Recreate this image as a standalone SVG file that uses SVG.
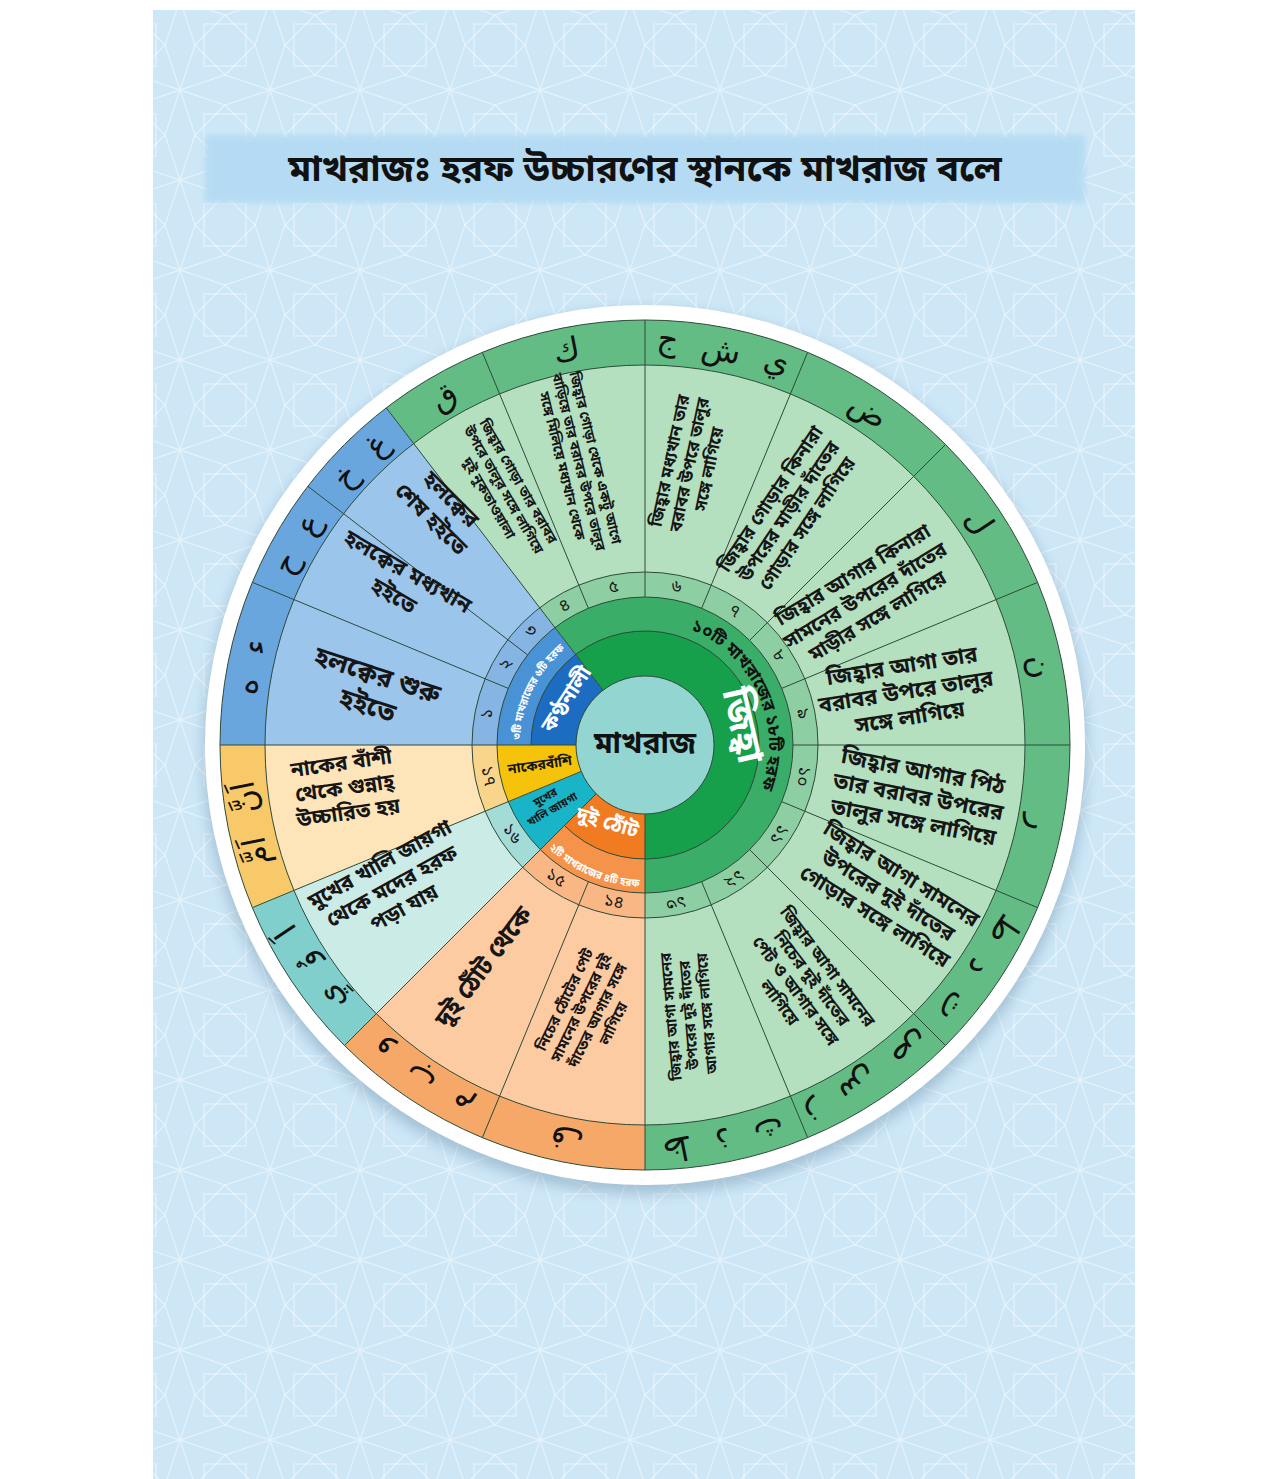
<svg xmlns="http://www.w3.org/2000/svg" width="1280" height="1479" viewBox="0 0 1280 1479">
<defs>
<style>
.bn{font-family:'Noto Sans Bengali','Noto Serif Bengali','Lohit Bengali','Hind Siliguri','Noto Sans',sans-serif;font-weight:700}
.d{fill:#161616;text-anchor:middle;dominant-baseline:central}
.n{font-size:17px;fill:#1a1a1a;text-anchor:middle;dominant-baseline:central;font-weight:400}
.ar{font-family:'DejaVu Sans','Noto Sans',sans-serif;font-size:32px;fill:#111;text-anchor:middle;dominant-baseline:central;word-spacing:14px}
.ln{stroke:#2e4a3a;stroke-width:1;fill:none}
</style>
<pattern id="bgp" width="90" height="90" patternUnits="userSpaceOnUse">
<rect width="90" height="90" fill="#cde7f7"/>
<g fill="none" stroke="#ffffff" stroke-opacity="0.45" stroke-width="1.3">
<polygon points="45,15 75,45 45,75 15,45"/>
<rect x="24" y="24" width="42" height="42"/>
<path d="M0 0 L15 45 L0 90 M90 0 L75 45 L90 90 M0 0 L45 15 L90 0 M0 90 L45 75 L90 90"/>
</g>
</pattern>
<filter id="sh" x="-10%" y="-10%" width="120%" height="120%"><feGaussianBlur stdDeviation="7"/></filter>
<filter id="soft" x="-5%" y="-20%" width="110%" height="140%"><feGaussianBlur stdDeviation="3"/></filter>
</defs>

<rect width="1280" height="1479" fill="#ffffff"/>
<rect x="153" y="10" width="982" height="1469" fill="url(#bgp)"/>

<g id="title">
<rect x="205" y="135" width="880" height="68" fill="#b2daf3" opacity="0.9" filter="url(#soft)"/>
<text class="bn" x="645" y="171" font-size="37" text-anchor="middle" dominant-baseline="central" fill="#111">মাখরাজঃ হরফ উচ্চারণের স্থানকে মাখরাজ বলে</text>
</g>

<g id="wheel-base">
<circle cx="645" cy="752" r="442" fill="#6f93ab" opacity="0.45" filter="url(#sh)"/>
<circle cx="645" cy="745" r="440" fill="#ffffff"/>
</g>

<g id="group-kanthanali">
<path d="M645 745 L220 745 A425 425 0 0 1 386.28 407.83 Z" fill="#6aa6de"/>
<path d="M645 745 L265 745 A380 380 0 0 1 413.67 443.53 Z" fill="#9cc5ec"/>
<path d="M645 745 L472 745 A173 173 0 0 1 539.68 607.75 Z" fill="#86b5e3"/>
<path d="M645 745 L497 745 A148 148 0 0 1 554.9 627.58 Z" fill="#4a92d6"/>
<path d="M645 745 L531 745 A114 114 0 0 1 575.6 654.56 Z" fill="#1c6cc2"/>
</g>
<g id="group-jihba">
<path d="M645 745 L386.28 407.83 A425 425 0 1 1 645 1170 Z" fill="#62bc84"/>
<path d="M645 745 L413.67 443.53 A380 380 0 1 1 645 1125 Z" fill="#b4e0c0"/>
<path d="M645 745 L539.68 607.75 A173 173 0 1 1 645 918 Z" fill="#8dcfa2"/>
<path d="M645 745 L554.9 627.58 A148 148 0 1 1 645 893 Z" fill="#3aad68"/>
<path d="M645 745 L575.6 654.56 A114 114 0 1 1 645 859 Z" fill="#16a04b"/>
</g>
<g id="group-thot">
<path d="M645 745 L645 1170 A425 425 0 0 1 344.48 1045.52 Z" fill="#f6a868"/>
<path d="M645 745 L645 1125 A380 380 0 0 1 376.3 1013.7 Z" fill="#fdcba2"/>
<path d="M645 745 L645 918 A173 173 0 0 1 522.67 867.33 Z" fill="#f8b785"/>
<path d="M645 745 L645 893 A148 148 0 0 1 540.35 849.65 Z" fill="#f5934b"/>
<path d="M645 745 L645 859 A114 114 0 0 1 564.39 825.61 Z" fill="#f07b20"/>
</g>
<g id="group-mukh">
<path d="M645 745 L344.48 1045.52 A425 425 0 0 1 252.35 907.64 Z" fill="#80cfcc"/>
<path d="M645 745 L376.3 1013.7 A380 380 0 0 1 293.93 890.42 Z" fill="#cbebe6"/>
<path d="M645 745 L522.67 867.33 A173 173 0 0 1 485.17 811.2 Z" fill="#a3dbd6"/>
<path d="M645 745 L540.35 849.65 A148 148 0 0 1 508.27 801.64 Z" fill="#1ab4c8"/>
</g>
<g id="group-nak">
<path d="M645 745 L252.35 907.64 A425 425 0 0 1 220 745 Z" fill="#f8c968"/>
<path d="M645 745 L293.93 890.42 A380 380 0 0 1 265 745 Z" fill="#fee4b9"/>
<path d="M645 745 L485.17 811.2 A173 173 0 0 1 472 745 Z" fill="#f9d48b"/>
<path d="M645 745 L508.27 801.64 A148 148 0 0 1 497 745 Z" fill="#f6c30b"/>
</g>

<g id="connectors" class="ln">
<circle cx="645" cy="745" r="425"/>
<circle cx="645" cy="745" r="380"/>
<circle cx="645" cy="745" r="173"/>
<circle cx="645" cy="745" r="148"/>
<path d="M531 745 A114 114 0 1 1 564.39 825.61"/>
<path d="M793 745 L1070 745"/>
<path d="M781.73 801.64 L1037.65 907.64"/>
<path d="M749.65 849.65 L945.52 1045.52"/>
<path d="M701.64 881.73 L807.64 1137.65"/>
<path d="M645 814 L645 1170"/>
<path d="M588.36 881.73 L482.36 1137.65"/>
<path d="M596.21 793.79 L344.48 1045.52"/>
<path d="M581.25 771.4 L252.35 907.64"/>
<path d="M576 745 L220 745"/>
<path d="M508.27 688.36 L252.35 582.36"/>
<path d="M527.58 654.9 L307.83 486.28"/>
<path d="M603 690.26 L386.28 407.83"/>
<path d="M588.36 608.27 L482.36 352.35"/>
<path d="M645 597 L645 320"/>
<path d="M701.64 608.27 L807.64 352.35"/>
<path d="M749.65 640.35 L945.52 444.48"/>
<path d="M781.73 688.36 L1037.65 582.36"/>
</g>

<g id="center">
<circle cx="645" cy="745" r="69" fill="#92d5d1" stroke="#2e4a3a" stroke-width="1"/>
<text class="bn" x="645" y="745" font-size="30" text-anchor="middle" dominant-baseline="central" fill="#111">মাখরাজ</text>
</g>

<g id="categories">
<text class="bn" transform="translate(568 700) rotate(-57)" font-size="21" text-anchor="middle" dominant-baseline="central" fill="#fff">কণ্ঠনালী</text>
<path id="pb" d="M520.02 742.84 A125 125 0 0 1 567.4 646.98" fill="none"/>
<text class="bn" font-size="11" fill="#fff"><textPath href="#pb" startOffset="50%" text-anchor="middle" textLength="104" lengthAdjust="spacingAndGlyphs">৩টি মাখরাজের ৬টি হরফ</textPath></text>
<text class="bn" transform="translate(740 726) rotate(77)" font-size="37" text-anchor="middle" dominant-baseline="central" fill="#fff">জিহ্বা</text>
<path id="pg" d="M687.41 628.48 A124 124 0 0 1 759.97 791.45" fill="none"/>
<text class="bn" font-size="17" fill="#111"><textPath href="#pg" startOffset="50%" text-anchor="middle">১০টি মাখরাজের ১৮টি হরফ</textPath></text>
<path id="po" d="M546.36 846.17 A142 142 0 0 0 642.52 886.98" fill="none"/>
<text class="bn" font-size="11" fill="#fff"><textPath href="#po" startOffset="50%" text-anchor="middle" textLength="100" lengthAdjust="spacingAndGlyphs">২টি মাখরাজের ৪টি হরফ</textPath></text>
<text class="bn" transform="translate(607 824) rotate(16)" font-size="20" text-anchor="middle" dominant-baseline="central" fill="#fff">দুই ঠোঁট</text>
<text class="bn d" transform="translate(549 804) rotate(-30)" font-size="11"><tspan x="0" y="-7">মুখের</tspan><tspan x="0" y="7">খালি জায়গা</tspan></text>
<text class="bn d" transform="translate(540 766) rotate(-8)" font-size="14">নাকেরবাঁশি</text>
</g>

<g id="numbers">
<text class="bn n" transform="translate(487.58 713.69) rotate(-78.75)">১</text>
<text class="bn n" transform="translate(506 664.75) rotate(-60)">২</text>
<text class="bn n" transform="translate(531.51 631.51) rotate(-45)">৩</text>
<text class="bn n" transform="translate(564.75 606) rotate(-30)">৪</text>
<text class="bn n" transform="translate(613.69 587.58) rotate(-11.25)">৫</text>
<text class="bn n" transform="translate(676.31 587.58) rotate(11.25)">৬</text>
<text class="bn n" transform="translate(734.17 611.54) rotate(33.75)">৭</text>
<text class="bn n" transform="translate(778.45 655.83) rotate(56.25)">৮</text>
<text class="bn n" transform="translate(802.42 713.69) rotate(78.75)">৯</text>
<text class="bn n" transform="translate(802.42 776.31) rotate(101.25)">১০</text>
<text class="bn n" transform="translate(778.45 834.17) rotate(123.75)">১১</text>
<text class="bn n" transform="translate(734.17 878.45) rotate(146.25)">১২</text>
<text class="bn n" transform="translate(676.31 902.42) rotate(168.75)">১৩</text>
<text class="bn n" transform="translate(613.69 902.42) rotate(11.25)">১৪</text>
<text class="bn n" transform="translate(555.83 878.45) rotate(33.75)">১৫</text>
<text class="bn n" transform="translate(511.55 834.17) rotate(56.25)">১৬</text>
<text class="bn n" transform="translate(487.58 776.31) rotate(78.75)">১৭</text>
</g>

<g id="descriptions">
<text class="bn d" transform="translate(372 692) rotate(18)" font-size="26"><tspan x="0" y="-16">হলক্বের শুরু</tspan><tspan x="0" y="16">হইতে</tspan></text>
<text class="bn d" transform="translate(400 585) rotate(30)" font-size="22"><tspan x="0" y="-14">হলক্বের মধ্যখান</tspan><tspan x="0" y="14">হইতে</tspan></text>
<text class="bn d" transform="translate(440 510) rotate(45)" font-size="22"><tspan x="0" y="-14">হলক্বের</tspan><tspan x="0" y="14">শেষ হইতে</tspan></text>
<text class="bn d" transform="translate(503 490) rotate(60)" font-size="14"><tspan x="0" y="-17">জিহ্বার গোড়া তার বরাবর</tspan><tspan x="0" y="0">উপরে তালুর সঙ্গে লাগিয়ে</tspan><tspan x="0" y="17">দুই নুকতাওয়ালা</tspan></text>
<text class="bn d" transform="translate(578 462) rotate(76)" font-size="14"><tspan x="0" y="-17">জিহ্বার গোড়া থেকে একটু আগে</tspan><tspan x="0" y="0">বাড়িয়ে তার বরাবর উপরে তালুর</tspan><tspan x="0" y="17">সঙ্গে মিলিয়ে মধ্যখান থেকে</tspan></text>
<text class="bn d" transform="translate(690 465) rotate(-78)" font-size="17"><tspan x="0" y="-20">জিহ্বার মধ্যখান তার</tspan><tspan x="0" y="0">বরাবর উপরে তালুর</tspan><tspan x="0" y="20">সঙ্গে লাগিয়ে</tspan></text>
<text class="bn d" transform="translate(790 512) rotate(-56)" font-size="19"><tspan x="0" y="-22">জিহ্বার গোড়ার কিনারা</tspan><tspan x="0" y="0">উপরের মাড়ীর দাঁতের</tspan><tspan x="0" y="22">গোড়ার সঙ্গে লাগিয়ে</tspan></text>
<text class="bn d" transform="translate(866 597) rotate(-31)" font-size="20"><tspan x="0" y="-24">জিহ্বার আগার কিনারা</tspan><tspan x="0" y="0">সামনের উপরের দাঁতের</tspan><tspan x="0" y="24">মাড়ীর সঙ্গে লাগিয়ে</tspan></text>
<text class="bn d" transform="translate(906 693) rotate(-9)" font-size="22"><tspan x="0" y="-26">জিহ্বার আগা তার</tspan><tspan x="0" y="0">বরাবর উপরে তালুর</tspan><tspan x="0" y="26">সঙ্গে লাগিয়ে</tspan></text>
<text class="bn d" transform="translate(918 798) rotate(11)" font-size="22"><tspan x="0" y="-26">জিহ্বার আগার পিঠ</tspan><tspan x="0" y="0">তার বরাবর উপরের</tspan><tspan x="0" y="26">তালুর সঙ্গে লাগিয়ে</tspan></text>
<text class="bn d" transform="translate(887 897) rotate(32)" font-size="21"><tspan x="0" y="-25">জিহ্বার আগা সামনের</tspan><tspan x="0" y="0">উপরের দুই দাঁতের</tspan><tspan x="0" y="25">গোড়ার সঙ্গে লাগিয়ে</tspan></text>
<text class="bn d" transform="translate(803 985) rotate(53)" font-size="17"><tspan x="0" y="-30">জিহ্বার আগা সামনের</tspan><tspan x="0" y="-10">নিচের দুই দাঁতের</tspan><tspan x="0" y="10">পেট ও আগার সঙ্গে</tspan><tspan x="0" y="30">লাগিয়ে</tspan></text>
<text class="bn d" transform="translate(690 1015) rotate(-95)" font-size="15"><tspan x="0" y="-18">জিহ্বার আগা সামনের</tspan><tspan x="0" y="0">উপরের দুই দাঁতের</tspan><tspan x="0" y="18">আগার সঙ্গে লাগিয়ে</tspan></text>
<text class="bn d" transform="translate(590 1012) rotate(-64)" font-size="15"><tspan x="0" y="-27">নিচের ঠোঁটের পেট</tspan><tspan x="0" y="-9">সামনের উপরের দুই</tspan><tspan x="0" y="9">দাঁতের আগার সঙ্গে</tspan><tspan x="0" y="27">লাগিয়ে</tspan></text>
<text class="bn d" transform="translate(485 968) rotate(-53)" font-size="25">দুই ঠোঁট থেকে</text>
<text class="bn d" transform="translate(393 888) rotate(-29)" font-size="21"><tspan x="0" y="-25">মুখের খালি জায়গা</tspan><tspan x="0" y="0">থেকে মদের হরফ</tspan><tspan x="0" y="25">পড়া যায়</tspan></text>
<text class="bn d" transform="translate(345 790) rotate(-8)" font-size="21"><tspan x="0" y="-25">নাকের বাঁশী</tspan><tspan x="0" y="0">থেকে গুন্নাহ্</tspan><tspan x="0" y="25">উচ্চারিত হয়</tspan></text>
</g>

<g id="letters">
<text class="ar" transform="translate(250.23 666.48) rotate(-78.75)" word-spacing="22">ء ه</text>
<text class="ar" transform="translate(296.43 543.75) rotate(-60)">ع ح</text>
<text class="ar" transform="translate(360.39 460.39) rotate(-45)">غ خ</text>
<text class="ar" transform="translate(443.75 396.43) rotate(-30)">ق</text>
<text class="ar" transform="translate(566.48 350.23) rotate(-11.25)">ك</text>
<text class="ar" transform="translate(723.52 350.23) rotate(11.25)">ي ش ج</text>
<text class="ar" transform="translate(868.62 410.33) rotate(33.75)">ض</text>
<text class="ar" transform="translate(979.67 521.38) rotate(56.25)">ل</text>
<text class="ar" transform="translate(1039.77 666.48) rotate(78.75)">ن</text>
<text class="ar" transform="translate(1039.77 823.52) rotate(101.25)">ر</text>
<text class="ar" transform="translate(979.67 968.62) rotate(123.75)">ت د ط</text>
<text class="ar" transform="translate(868.62 1079.67) rotate(146.25)">ز س ص</text>
<text class="ar" transform="translate(723.52 1139.77) rotate(168.75)">ظ ذ ث</text>
<text class="ar" transform="translate(566.48 1139.77) rotate(191.25)">ف</text>
<text class="ar" transform="translate(421.38 1079.67) rotate(213.75)">و ب م</text>
<text class="ar" transform="translate(310.33 968.62) rotate(236.25)" word-spacing="18">اَ وُ يِ</text>
<text class="ar" transform="translate(250.23 823.52) rotate(258.75)" word-spacing="18">اَنَّ اَمَّ</text>
</g>
</svg>
